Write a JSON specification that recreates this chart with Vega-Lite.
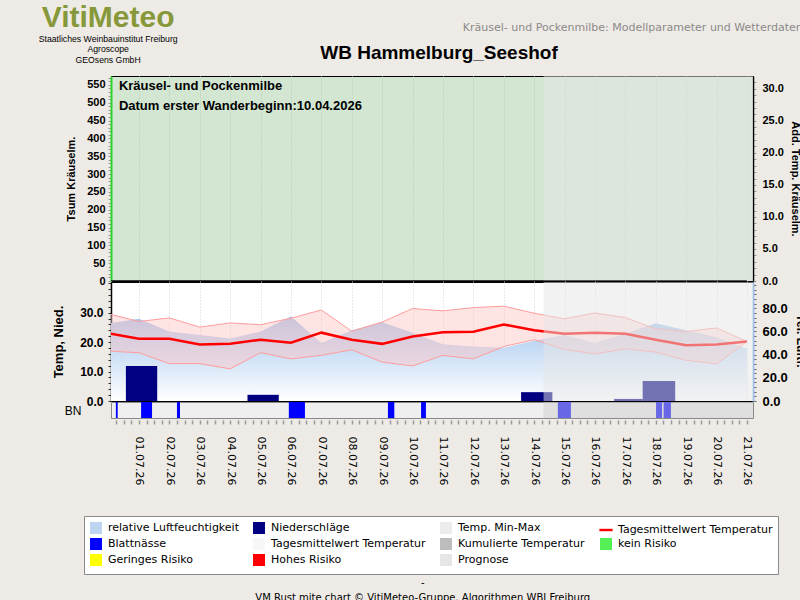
{
  "$schema": "https://vega.github.io/schema/vega-lite/v6.json",
  "background": "#eeebe6",
  "padding": {"left": 38, "top": 2, "right": 15, "bottom": 6},
  "autosize": {"type": "pad"},
  "config": {
    "axis": {"labelFont": "Liberation Sans", "titleFont": "Liberation Sans", "labelColor": "#000", "titleColor": "#000", "labelFontWeight": "bold", "titleFontWeight": "bold", "labelFlush": false, "labelOverlap": false, "labelBound": false},
    "concat": {"spacing": 1}
  },
  "datasets": {
    "weather": [
      {"day": 0, "tmin": 16.9, "tmax": 29.6, "tmean": 23.0, "rh": 67},
      {"day": 1, "tmin": 16.4, "tmax": 27.0, "tmean": 21.1, "rh": 71},
      {"day": 2, "tmin": 12.7, "tmax": 28.2, "tmean": 21.1, "rh": 60},
      {"day": 3, "tmin": 12.7, "tmax": 25.1, "tmean": 19.2, "rh": 57},
      {"day": 4, "tmin": 10.9, "tmax": 26.5, "tmean": 19.4, "rh": 54},
      {"day": 5, "tmin": 16.4, "tmax": 25.9, "tmean": 20.8, "rh": 60},
      {"day": 6, "tmin": 14.3, "tmax": 28.1, "tmean": 19.8, "rh": 73},
      {"day": 7, "tmin": 15.5, "tmax": 30.9, "tmean": 23.2, "rh": 50},
      {"day": 8, "tmin": 17.4, "tmax": 23.7, "tmean": 20.8, "rh": 61},
      {"day": 9, "tmin": 13.2, "tmax": 26.8, "tmean": 19.4, "rh": 68},
      {"day": 10, "tmin": 11.9, "tmax": 31.4, "tmean": 21.9, "rh": 59},
      {"day": 11, "tmin": 15.5, "tmax": 30.6, "tmean": 23.3, "rh": 49},
      {"day": 12, "tmin": 14.3, "tmax": 31.7, "tmean": 23.5, "rh": 47},
      {"day": 13, "tmin": 18.5, "tmax": 32.2, "tmean": 26.0, "rh": 46},
      {"day": 14, "tmin": 20.8, "tmax": 29.8, "tmean": 24.0, "rh": 52},
      {"day": 15, "tmin": 17.5, "tmax": 27.9, "tmean": 22.8, "rh": 57},
      {"day": 16, "tmin": 16.0, "tmax": 29.9, "tmean": 23.2, "rh": 50},
      {"day": 17, "tmin": 17.7, "tmax": 28.3, "tmean": 22.8, "rh": 58},
      {"day": 18, "tmin": 16.6, "tmax": 24.5, "tmean": 20.8, "rh": 67},
      {"day": 19, "tmin": 13.8, "tmax": 23.6, "tmean": 18.9, "rh": 61},
      {"day": 20, "tmin": 12.6, "tmax": 24.8, "tmean": 19.2, "rh": 55},
      {"day": 21, "tmin": 20.2, "tmax": 20.2, "tmean": 20.2, "rh": 45}
    ],
    "precip": [
      {"from": 0.57, "to": 1.6, "precip": 11.9},
      {"from": 4.57, "to": 5.6, "precip": 2.1},
      {"from": 13.57, "to": 14.6, "precip": 3.0},
      {"from": 16.63, "to": 17.57, "precip": 0.7},
      {"from": 17.57, "to": 18.64, "precip": 6.8}
    ],
    "leafwet": [
      {"from": 0.24, "to": 0.3},
      {"from": 1.07, "to": 1.43},
      {"from": 2.25, "to": 2.35},
      {"from": 5.93, "to": 6.46},
      {"from": 9.19, "to": 9.4},
      {"from": 10.28, "to": 10.44},
      {"from": 14.78, "to": 15.21},
      {"from": 18.01, "to": 18.21},
      {"from": 18.26, "to": 18.5}
    ],
    "forecast": [{"from": 14.31, "to": 21.2}],
    "cum": [
      {"day": 0, "tsum": 0, "addtemp": 0}, {"day": 1, "tsum": 0, "addtemp": 0}, {"day": 2, "tsum": 0, "addtemp": 0},
      {"day": 3, "tsum": 0, "addtemp": 0}, {"day": 4, "tsum": 0, "addtemp": 0}, {"day": 5, "tsum": 0, "addtemp": 0},
      {"day": 6, "tsum": 0, "addtemp": 0}, {"day": 7, "tsum": 0, "addtemp": 0}, {"day": 8, "tsum": 0, "addtemp": 0},
      {"day": 9, "tsum": 0, "addtemp": 0}, {"day": 10, "tsum": 0, "addtemp": 0}, {"day": 11, "tsum": 0, "addtemp": 0},
      {"day": 12, "tsum": 0, "addtemp": 0}, {"day": 13, "tsum": 0, "addtemp": 0}, {"day": 14, "tsum": 0, "addtemp": 0},
      {"day": 15, "tsum": 0, "addtemp": 0}, {"day": 16, "tsum": 0, "addtemp": 0}, {"day": 17, "tsum": 0, "addtemp": 0},
      {"day": 18, "tsum": 0, "addtemp": 0}, {"day": 19, "tsum": 0, "addtemp": 0}, {"day": 20, "tsum": 0, "addtemp": 0},
      {"day": 21, "tsum": 0, "addtemp": 0}
    ],
    "notes": [{"label": "Kräusel- und Pockenmilbe\nDatum  erster Wanderbeginn:10.04.2026"}],
    "legend": [
      {"entry": "relative Luftfeuchtigkeit"}, {"entry": "Blattnässe"}, {"entry": "Geringes Risiko"},
      {"entry": "Niederschläge"}, {"entry": "Tagesmittelwert Temperatur "}, {"entry": "Hohes Risiko"},
      {"entry": "Temp. Min-Max"}, {"entry": "Kumulierte Temperatur"}, {"entry": "Prognose"},
      {"entry": "Tagesmittelwert Temperatur"}, {"entry": "kein Risiko"}
    ]
  },
  "title": {
    "text": "-",
    "subtitle": "VM Rust mite chart © VitiMeteo-Gruppe. Algorithmen WBI Freiburg",
    "orient": "bottom", "anchor": "middle",
    "font": "DejaVu Sans", "fontSize": 10, "fontWeight": "normal", "color": "#000",
    "subtitleFont": "DejaVu Sans", "subtitleFontSize": 10, "subtitleColor": "#000",
    "subtitlePadding": 5, "offset": 3
  },
  "vconcat": [
    {
      "title": {
        "text": "VitiMeteo",
        "subtitle": ["Staatliches Weinbauinstitut Freiburg", "Agroscope", "GEOsens GmbH"],
        "anchor": "start", "frame": "bounds", "align": "center", "dx": 56, "offset": -42,
        "font": "Liberation Sans", "fontSize": 30, "fontWeight": "bold", "color": "#86983a",
        "subtitleFont": "Liberation Sans", "subtitleFontSize": 8.7, "subtitleColor": "#000", "subtitlePadding": 2, "subtitleLineHeight": 10.5
      },
      "vconcat": [
        {
          "title": {
            "text": "Kräusel- und Pockenmilbe: Modellparameter und Wetterdaten",
            "anchor": "end", "frame": "bounds", "dx": -4, "offset": 10,
            "font": "DejaVu Sans", "fontSize": 11, "fontWeight": "normal", "color": "#8a8a8a"
          },
          "bounds": "flush",
          "spacing": 1,
          "vconcat": [
            {
              "width": 642, "height": 205,
              "title": {"text": "WB Hammelburg_Seeshof", "font": "Liberation Sans", "fontSize": 19, "fontWeight": "bold", "color": "#000", "anchor": "middle", "dx": 7, "offset": 9},
              "view": {"fill": "#d3e6d2", "stroke": "#000", "strokeWidth": 1},
              "resolve": {"scale": {"y": "independent"}},
              "layer": [
                {
                  "layer": [
                    {
                      "data": {"name": "cum"},
                      "mark": {"type": "line", "color": "#000", "strokeWidth": 1, "clip": true},
                      "encoding": {
                        "x": {"field": "day", "type": "quantitative", "scale": {"domain": [0.08, 21.2], "nice": false, "zero": false},
                              "axis": {"title": null, "labels": false, "ticks": false, "domain": false, "grid": true, "gridColor": "#b5c8b4", "gridDash": [1, 2], "tickCount": 200, "values": [1,2,3,4,5,6,7,8,9,10,11,12,13,14,15,16,17,18,19,20,21]}},
                        "y": {"field": "tsum", "type": "quantitative", "scale": {"domain": [0, 575], "nice": false},
                              "axis": {"orient": "left", "title": "Tsum Kräuselm.", "titleFontSize": 11, "labelFontSize": 11,
                                       "tickCount": 200,
                                       "values": [0,10,20,30,40,50,60,70,80,90,100,110,120,130,140,150,160,170,180,190,200,210,220,230,240,250,260,270,280,290,300,310,320,330,340,350,360,370,380,390,400,410,420,430,440,450,460,470,480,490,500,510,520,530,540,550,560,570],
                                       "labelExpr": "datum.value % 50 === 0 ? datum.label : ''",
                                       "labelOverlap": false, "labelBound": false, "labelFlush": false,
                                       "tickSize": 3, "tickColor": "#9a9a9a", "domainColor": "#2ad42a", "domainWidth": 2,
                                       "labelPadding": 3, "titlePadding": 10, "grid": false}}
                      }
                    },
                    {
                      "data": {"name": "notes"},
                      "mark": {"type": "text", "align": "left", "baseline": "top", "font": "Liberation Sans", "fontSize": 13, "fontWeight": "bold", "lineBreak": "\n", "lineHeight": 20, "color": "#000"},
                      "encoding": {
                        "text": {"field": "label"},
                        "x": {"datum": 0.34, "type": "quantitative"},
                        "y": {"datum": 563, "type": "quantitative"}
                      }
                    }
                  ]
                },
                {
                  "layer": [
                    {
                      "data": {"name": "forecast"},
                      "mark": {"type": "rect", "color": "#e6e6e6", "opacity": 0.5},
                      "encoding": {
                        "x": {"field": "from", "type": "quantitative"},
                        "x2": {"field": "to"},
                        "y": {"datum": 0, "type": "quantitative", "scale": {"domain": [0, 32], "nice": false},
                              "axis": {"orient": "right", "title": "Add. Temp. Kräuselm.", "titleFontSize": 11, "labelFontSize": 11,
                                       "tickCount": 200,
                                       "values": [0,1,2,3,4,5,6,7,8,9,10,11,12,13,14,15,16,17,18,19,20,21,22,23,24,25,26,27,28,29,30,31],
                                       "labelExpr": "datum.value % 5 === 0 ? datum.label : ''",
                                       "labelOverlap": false, "labelBound": false, "labelFlush": false,
                                       "tickSize": 3, "tickColor": "#9a9a9a", "domainColor": "#000", "domainWidth": 1.5,
                                       "labelPadding": 6, "titlePadding": 6, "grid": false}},
                        "y2": {"datum": 32}
                      }
                    },
                    {
                      "data": {"name": "cum"},
                      "mark": {"type": "line", "color": "#000", "strokeWidth": 1, "clip": true},
                      "encoding": {
                        "x": {"field": "day", "type": "quantitative"},
                        "y": {"field": "addtemp", "type": "quantitative"}
                      }
                    }
                  ]
                }
              ]
            },
            {
              "width": 642, "height": 119,
              "view": {"fill": "#ffffff", "stroke": "#000", "strokeWidth": 1},
              "resolve": {"scale": {"y": "independent"}},
              "layer": [
                {
                  "data": {"name": "weather"},
                  "mark": {"type": "area", "clip": true, "fill": {"x1": 0, "y1": 1, "x2": 0, "y2": 0, "gradient": "linear", "stops": [{"offset": 0, "color": "#ffffff"}, {"offset": 1, "color": "#a3c6ee"}]}},
                  "encoding": {
                    "x": {"field": "day", "type": "quantitative", "scale": {"domain": [0.08, 21.2], "nice": false, "zero": false},
                          "axis": {"title": null, "labels": false, "ticks": false, "domain": false, "grid": true, "gridColor": "#d4d4d4", "gridDash": [1, 2], "tickCount": 200, "values": [1,2,3,4,5,6,7,8,9,10,11,12,13,14,15,16,17,18,19,20,21]}},
                    "y": {"field": "rh", "type": "quantitative", "scale": {"domain": [0, 102.7], "nice": false},
                          "axis": {"orient": "right", "title": "rel. Luftf.", "titleFontSize": 12, "labelFontSize": 13,
                                   "tickCount": 200,
                                   "values": [0,4,8,12,16,20,24,28,32,36,40,44,48,52,56,60,64,68,72,76,80,84,88,92,96,100],
                                   "labelExpr": "datum.value % 20 === 0 && datum.value < 100 ? datum.label : ''",
                                   "labelOverlap": false, "labelBound": false, "labelFlush": false,
                                   "tickSize": 3, "tickColor": "#666", "domainColor": "#9fbfe6", "domainWidth": 2,
                                   "labelPadding": 6, "titlePadding": 6, "grid": false}}
                  }
                },
                {
                  "layer": [
                    {
                      "data": {"name": "weather"},
                      "mark": {"type": "area", "color": "#ffc4c4", "opacity": 0.45, "clip": true},
                      "encoding": {
                        "x": {"field": "day", "type": "quantitative"},
                        "y": {"field": "tmin", "type": "quantitative", "scale": {"domain": [0, 40.4], "nice": false},
                              "axis": {"orient": "left", "title": "Temp, Nied.", "titleFontSize": 13, "labelFontSize": 12,
                                       "tickCount": 200,
                                       "values": [0,2,4,6,8,10,12,14,16,18,20,22,24,26,28,30,32,34,36,38,40],
                                       "labelExpr": "datum.value % 10 === 0 && datum.value < 40 ? datum.label : ''",
                                       "labelOverlap": false, "labelBound": false, "labelFlush": false,
                                       "tickSize": 3, "tickColor": "#333", "domainColor": "#000", "domainWidth": 1.5,
                                       "labelPadding": 5, "titlePadding": 14, "grid": false}},
                        "y2": {"field": "tmax"}
                      }
                    },
                    {
                      "data": {"name": "weather"},
                      "mark": {"type": "line", "color": "#ff9c9c", "strokeWidth": 1, "clip": true},
                      "encoding": {
                        "x": {"field": "day", "type": "quantitative"},
                        "y": {"field": "tmax", "type": "quantitative"}
                      }
                    },
                    {
                      "data": {"name": "weather"},
                      "mark": {"type": "line", "color": "#ff9c9c", "strokeWidth": 1, "clip": true},
                      "encoding": {
                        "x": {"field": "day", "type": "quantitative"},
                        "y": {"field": "tmin", "type": "quantitative"}
                      }
                    },
                    {
                      "data": {"name": "weather"},
                      "mark": {"type": "line", "color": "#ff0000", "strokeWidth": 2.5, "clip": true},
                      "encoding": {
                        "x": {"field": "day", "type": "quantitative"},
                        "y": {"field": "tmean", "type": "quantitative"}
                      }
                    },
                    {
                      "data": {"name": "precip"},
                      "mark": {"type": "rect", "color": "#000080"},
                      "encoding": {
                        "x": {"field": "from", "type": "quantitative"},
                        "x2": {"field": "to"},
                        "y": {"field": "precip", "type": "quantitative"},
                        "y2": {"datum": 0}
                      }
                    },
                    {
                      "data": {"name": "forecast"},
                      "mark": {"type": "rect", "color": "#e6e6e6", "opacity": 0.5},
                      "encoding": {
                        "x": {"field": "from", "type": "quantitative"},
                        "x2": {"field": "to"},
                        "y": {"datum": 0, "type": "quantitative"},
                        "y2": {"datum": 40.4}
                      }
                    }
                  ]
                }
              ]
            },
            {
              "width": 642, "height": 16,
              "view": {"fill": "#efefef", "stroke": "#8a8a8a", "strokeWidth": 1},
              "layer": [
                {
                  "data": {"name": "leafwet"},
                  "mark": {"type": "rect", "color": "#0000ff"},
                  "encoding": {
                    "x": {"field": "from", "type": "quantitative", "scale": {"domain": [0.08, 21.2], "nice": false, "zero": false},
                          "axis": {"title": null, "domain": false, "grid": false, "offset": 2, "tickCount": 200,
                                   "values": [0.25,0.5,0.75,1,1.25,1.5,1.75,2,2.25,2.5,2.75,3,3.25,3.5,3.75,4,4.25,4.5,4.75,5,5.25,5.5,5.75,6,6.25,6.5,6.75,7,7.25,7.5,7.75,8,8.25,8.5,8.75,9,9.25,9.5,9.75,10,10.25,10.5,10.75,11,11.25,11.5,11.75,12,12.25,12.5,12.75,13,13.25,13.5,13.75,14,14.25,14.5,14.75,15,15.25,15.5,15.75,16,16.25,16.5,16.75,17,17.25,17.5,17.75,18,18.25,18.5,18.75,19,19.25,19.5,19.75,20,20.25,20.5,20.75,21],
                                   "labelExpr": "datum.value % 1 === 0 ? ((datum.value < 10 ? '0' : '') + datum.value + '.07.26') : ''",
                                   "labelOverlap": false, "labelBound": false, "labelFlush": false,
                                   "labelAngle": 90, "labelFont": "DejaVu Sans", "labelFontSize": 11, "labelFontWeight": "normal", "labelColor": "#000",
                                   "labelPadding": 12, "tickSize": 4, "tickWidth": 1.5, "tickColor": "#999"}},
                    "x2": {"field": "to"},
                    "y": {"datum": 0, "type": "quantitative", "scale": {"domain": [0, 1], "nice": false},
                          "axis": {"title": "BN", "titleAngle": 0, "titleAlign": "right", "titleBaseline": "middle", "titleFontWeight": "normal", "titleFontSize": 12, "titleFont": "Liberation Sans",
                                   "labels": false, "ticks": false, "domain": false, "grid": false, "titlePadding": 30}},
                    "y2": {"datum": 1}
                  }
                },
                {
                  "data": {"name": "forecast"},
                  "mark": {"type": "rect", "color": "#d0d0d0", "opacity": 0.5},
                  "encoding": {
                    "x": {"field": "from", "type": "quantitative"},
                    "x2": {"field": "to"},
                    "y": {"datum": 0, "type": "quantitative"},
                    "y2": {"datum": 1}
                  }
                },
                {
                  "data": {"name": "legend"},
                  "mark": {"type": "point", "filled": true, "opacity": 0},
                  "encoding": {
                    "x": {"datum": 10, "type": "quantitative"},
                    "y": {"datum": 0.5, "type": "quantitative"},
                    "color": {"field": "entry", "type": "nominal",
                              "scale": {"domain": ["relative Luftfeuchtigkeit", "Blattnässe", "Geringes Risiko", "Niederschläge", "Tagesmittelwert Temperatur ", "Hohes Risiko", "Temp. Min-Max", "Kumulierte Temperatur", "Prognose", "Tagesmittelwert Temperatur", "kein Risiko"],
                                        "range": ["#bcd4f0", "#0000ff", "#ffff00", "#000080", "#f7f7f7", "#ff0000", "#ececec", "#bdbdbd", "#e6e6e6", "#ff0000", "#55f055"]},
                              "legend": {"title": null, "orient": "none", "legendX": -27, "legendY": 440, "columns": 4,
                                         "fillColor": "#ffffff", "strokeColor": "#8a8a8a", "padding": 5,
                                         "symbolSize": 144, "symbolOpacity": 1,
                                         "labelFont": "DejaVu Sans", "labelFontSize": 11, "labelColor": "#000", "labelOffset": 5, "labelLimit": 300,
                                         "columnPadding": 11, "rowPadding": -6}},
                    "shape": {"field": "entry", "type": "nominal",
                              "scale": {"domain": ["relative Luftfeuchtigkeit", "Blattnässe", "Geringes Risiko", "Niederschläge", "Tagesmittelwert Temperatur ", "Hohes Risiko", "Temp. Min-Max", "Kumulierte Temperatur", "Prognose", "Tagesmittelwert Temperatur", "kein Risiko"],
                                        "range": ["square", "square", "square", "square", "square", "square", "square", "square", "square", "M-1.1,-0.2L1.1,-0.2L1.1,0.2L-1.1,0.2Z", "square"]},
                              "legend": {"title": null, "orient": "none", "legendX": -27, "legendY": 440, "columns": 4,
                                         "fillColor": "#ffffff", "strokeColor": "#8a8a8a", "padding": 5,
                                         "symbolSize": 144, "symbolOpacity": 1,
                                         "labelFont": "DejaVu Sans", "labelFontSize": 11, "labelColor": "#000", "labelOffset": 5, "labelLimit": 300,
                                         "columnPadding": 11, "rowPadding": -6}}
                  }
                }
              ]
            }
          ]
        }
      ]
    }
  ]
}
